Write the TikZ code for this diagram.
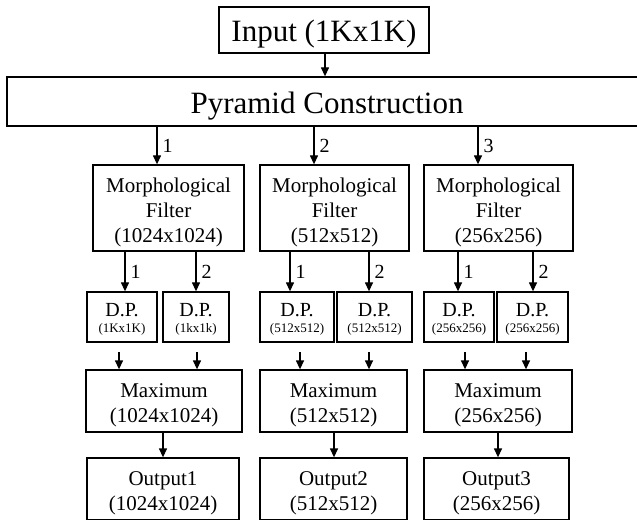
\documentclass[tikz,border=0pt]{standalone}
\usepackage{fontspec}
\setmainfont{Liberation Serif}
\usetikzlibrary{arrows.meta}

% a strut on the first line sets the text a little low in its box
\newcommand{\lowstrut}[1]{\rule{0pt}{#1}}

\tikzset{
  blk/.style={draw, line width=1.3pt, inner sep=0pt, align=center,
              minimum width=#1},
  arr/.style={line width=1.3pt, -{Triangle[length=9pt,width=8pt]}},
  lbl/.style={right, inner sep=5pt, font=\fontsize{20}{22}\selectfont},
  bigtxt/.style={font=\fontsize{31}{36}\selectfont},
  midtxt/.style={font=\fontsize{21}{25}\selectfont},
  dptxt/.style={font=\fontsize{13}{16}\selectfont},
}

\begin{document}
\begin{tikzpicture}[x=1pt,y=-1pt]
\useasboundingbox (0,0) rectangle (637,521);

% top stage
\node[blk=210pt, minimum height=46pt, bigtxt] (inp) at (324,30) {\lowstrut{30pt}Input (1Kx1K)};
\node[blk=640pt, minimum height=49pt, bigtxt] (pyr) at (327,101.5) {\lowstrut{30pt}Pyramid Construction};

% morphological filters
\node[blk=151pt, minimum height=86pt, midtxt] (m1) at (168.5,208) {\lowstrut{23pt}Morphological\\Filter\\(1024x1024)};
\node[blk=149pt, minimum height=86pt, midtxt] (m2) at (334.5,208) {\lowstrut{23pt}Morphological\\Filter\\(512x512)};
\node[blk=149pt, minimum height=86pt, midtxt] (m3) at (498.5,208) {\lowstrut{23pt}Morphological\\Filter\\(256x256)};

% D.P. blocks
\newcommand{\dpbox}[1]{{\fontsize{20}{16}\selectfont\lowstrut{18pt}D.P.}\\#1}
\node[blk=70pt, minimum height=50pt, dptxt] (d11) at (122,317) {\dpbox{(1Kx1K)}};
\node[blk=66pt, minimum height=50pt, dptxt] (d12) at (196,317) {\dpbox{(1kx1k)}};
\node[blk=74pt, minimum height=50pt, dptxt] (d21) at (297,317) {\dpbox{(512x512)}};
\node[blk=75pt, minimum height=50pt, dptxt] (d22) at (374.5,317) {\dpbox{(512x512)}};
\node[blk=70pt, minimum height=50pt, dptxt] (d31) at (459,317) {\dpbox{(256x256)}};
\node[blk=71pt, minimum height=50pt, dptxt] (d32) at (532.5,317) {\dpbox{(256x256)}};

% maximum blocks
\node[blk=156pt, minimum height=62pt, midtxt] (x1) at (164,401) {\lowstrut{23pt}Maximum\\(1024x1024)};
\node[blk=147pt, minimum height=62pt, midtxt] (x2) at (333.5,401) {\lowstrut{23pt}Maximum\\(512x512)};
\node[blk=148pt, minimum height=62pt, midtxt] (x3) at (498,401) {\lowstrut{23pt}Maximum\\(256x256)};

% outputs
\node[blk=152pt, minimum height=61.5pt, midtxt] (o1) at (163,488.75) {\lowstrut{23pt}Output1\\(1024x1024)};
\node[blk=147pt, minimum height=61.5pt, midtxt] (o2) at (333.5,488.75) {\lowstrut{23pt}Output2\\(512x512)};
\node[blk=145pt, minimum height=61.5pt, midtxt] (o3) at (496.5,488.75) {\lowstrut{23pt}Output3\\(256x256)};

% column positions of the connectors
\coordinate (cin) at (325,0);
\coordinate (p1) at (157,0);
\coordinate (p2) at (314,0);
\coordinate (p3) at (478,0);
\coordinate (a11) at (125,0);
\coordinate (a12) at (196,0);
\coordinate (a21) at (290,0);
\coordinate (a22) at (369,0);
\coordinate (a31) at (458,0);
\coordinate (a32) at (533,0);
\coordinate (b11) at (119,0);
\coordinate (b12) at (197,0);
\coordinate (b21) at (300,0);
\coordinate (b22) at (369,0);
\coordinate (b31) at (465,0);
\coordinate (b32) at (526,0);
\coordinate (q1) at (163,0);
\coordinate (q2) at (334,0);
\coordinate (q3) at (498,0);
\coordinate (gap) at (0,352);

\draw[arr] (inp.south -| cin) -- (pyr.north -| cin);

\draw[arr] (pyr.south -| p1) -- node[lbl] {1} (m1.north -| p1);
\draw[arr] (pyr.south -| p2) -- node[lbl] {2} (m2.north -| p2);
\draw[arr] (pyr.south -| p3) -- node[lbl] {3} (m3.north -| p3);

\draw[arr] (m1.south -| a11) -- node[lbl] {1} (d11.north -| a11);
\draw[arr] (m1.south -| a12) -- node[lbl] {2} (d12.north -| a12);
\draw[arr] (m2.south -| a21) -- node[lbl] {1} (d21.north -| a21);
\draw[arr] (m2.south -| a22) -- node[lbl] {2} (d22.north -| a22);
\draw[arr] (m3.south -| a31) -- node[lbl] {1} (d31.north -| a31);
\draw[arr] (m3.south -| a32) -- node[lbl] {2} (d32.north -| a32);

\draw[arr] (gap -| b11) -- (x1.north -| b11);
\draw[arr] (gap -| b12) -- (x1.north -| b12);
\draw[arr] (gap -| b21) -- (x2.north -| b21);
\draw[arr] (gap -| b22) -- (x2.north -| b22);
\draw[arr] (gap -| b31) -- (x3.north -| b31);
\draw[arr] (gap -| b32) -- (x3.north -| b32);

\draw[arr] (x1.south -| q1) -- (o1.north -| q1);
\draw[arr] (x2.south -| q2) -- (o2.north -| q2);
\draw[arr] (x3.south -| q3) -- (o3.north -| q3);
\end{tikzpicture}
\end{document}
